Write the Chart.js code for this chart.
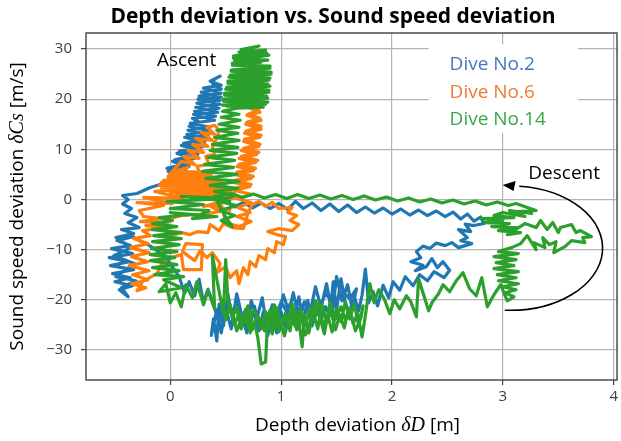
<!DOCTYPE html>
<html>
<head>
<meta charset="utf-8">
<script src="https://cdn.jsdelivr.net/npm/chart.js@4.4.1/dist/chart.umd.min.js"></script>
<style>
  html, body { margin: 0; padding: 0; background: #fff; }
</style>
</head>
<body>
<canvas id="chart" width="621" height="441"></canvas>
<script>
const xTicks = [0, 1, 2, 3, 4];
const yTicks = [-30, -20, -10, 0, 10, 20, 30];
const diveNames = ['Dive No.2', 'Dive No.6', 'Dive No.14'];

// [depth deviation, sound speed deviation]
const dive2 = [
  [0.50,-0.4],[0.58,-1.5],[0.66,-0.6],[0.74,-1.7],[0.82,-0.7],[0.90,-1.8],[0.98,-0.8],[1.06,-2.0],[1.13,-0.4],[1.20,-1.8],[1.28,-0.7],[1.36,-2.2],[1.44,-0.9],[1.52,-2.4],[1.60,-1.1],[1.68,-2.6],[1.76,-1.5],[1.84,-2.7],[1.92,-1.7],[2.00,-2.9],[2.08,-1.9],[2.16,-3.1],[2.24,-2.1],[2.32,-3.2],[2.40,-2.3],[2.48,-3.4],[2.55,-2.5],[2.62,-3.9],[2.68,-2.9],[2.74,-4.3],[2.80,-3.5],[2.83,-4.8],
  [2.74,-5.2],[2.66,-4.9],[2.71,-6.4],[2.60,-6.0],[2.68,-7.6],[2.62,-8.2],[2.72,-8.8],[2.60,-9.6],[2.54,-8.6],[2.48,-9.2],[2.40,-8.7],[2.34,-9.8],[2.28,-9.3],[2.22,-10.4],[2.26,-11.6],[2.17,-12.4],[2.28,-13.1],[2.21,-14.2],[2.31,-13.4],[2.36,-11.8],[2.41,-13.6],[2.46,-12.4],[2.52,-14.1],[2.47,-15.6],[2.38,-14.4],[2.32,-16.2],[2.25,-15.0],[2.19,-17.2],[2.12,-15.4],[2.07,-18.1],[2.01,-16.4],[1.97,-19.6],[1.92,-17.1],[1.87,-21.2],[1.83,-18.4],[1.79,-20.6],[1.76,-13.9],[1.73,-19.1],[1.70,-22.2],[1.66,-19.4],[1.62,-23.6],[1.58,-20.8],[1.54,-15.8],[1.50,-22.1],[1.47,-16.4],[1.44,-23.2],[1.40,-21.4],[1.36,-24.1],[1.32,-21.8],[1.28,-25.2],[1.24,-20.1],[1.20,-24.6],[1.16,-19.4],[1.12,-23.6],[1.08,-20.8],[1.04,-25.6],[1.00,-22.4],[0.96,-26.6],[0.92,-22.9],[0.88,-27.1],[0.84,-22.4],[0.80,-26.2],[0.76,-21.3],[0.72,-25.1],[0.68,-21.9],[0.64,-24.6],[0.60,-20.4],[0.56,-23.6],[0.52,-18.9],[0.48,-25.2],[0.44,-20.9],[0.42,-28.2],[0.39,-23.8],[0.37,-27.1],
  [0.42,-22.0],[0.46,-26.6],[0.50,-21.6],[0.55,-25.8],[0.60,-18.8],[0.64,-22.6],[0.69,-26.6],[0.73,-20.2],[0.78,-23.8],[0.83,-19.6],[0.87,-25.4],[0.92,-21.0],[0.97,-24.2],[1.02,-19.0],[1.07,-22.4],[1.11,-18.6],[1.16,-24.0],[1.21,-20.4],[1.26,-22.8],[1.31,-17.4],[1.36,-21.6],[1.41,-16.8],[1.46,-22.8],[1.50,-15.4],[1.55,-20.2],[1.60,-17.0],[1.64,-21.8],[1.68,-17.8],
  [1.62,-19.8],[1.56,-18.6],[1.48,-20.8],[1.40,-18.8],[1.32,-23.0],[1.24,-22.0],[1.16,-21.8],[1.08,-23.6],[1.00,-20.4],[0.92,-25.4],[0.84,-24.8],[0.76,-23.2],[0.68,-24.0],[0.60,-22.4],[0.52,-21.4],[0.44,-24.6],[0.38,-20.2],
  [0.34,-17.9],[0.30,-20.6],[0.26,-15.9],[0.22,-19.2],[0.17,-16.4],[0.13,-18.7],[0.08,-15.4],[0.03,-13.8],[-0.04,-11.6],[-0.12,-10.2],[-0.20,-9.0],[-0.28,-8.2],
  [-0.34,-7.4],[-0.48,-8.2],[-0.36,-9.2],[-0.53,-9.8],[-0.34,-10.8],[-0.55,-11.6],[-0.37,-12.4],[-0.54,-13.2],[-0.33,-14.0],[-0.52,-14.8],[-0.36,-15.6],[-0.50,-16.4],[-0.34,-17.2],[-0.46,-18.0],[-0.38,-19.4],[-0.44,-17.6],[-0.31,-16.2],[-0.49,-15.4],[-0.32,-12.8],[-0.51,-11.2],[-0.35,-9.6],[-0.49,-7.6],[-0.33,-6.8],[-0.44,-6.0],[-0.28,-5.6],[-0.38,-4.6],[-0.30,-3.6],[-0.41,-2.8],[-0.35,-1.8],[-0.43,-0.9],[-0.38,0.0],[-0.43,0.8],
  [-0.30,1.2],[-0.18,2.4],[-0.06,3.2],[0.02,4.0],[0.15,5.6],[-0.03,6.2],[0.20,7.4],[0.04,7.9],[0.25,9.0],[0.08,9.6],[0.30,10.6],[0.12,11.2],[0.33,12.1],[0.15,13.0],[0.36,13.6],[0.17,14.6],[0.25,15.6],[0.20,16.2],[0.41,16.6],[0.22,17.6],[0.44,18.2],[0.24,19.2],[0.45,19.8],[0.26,20.6],[0.46,21.2],[0.30,22.2],[0.46,22.8],[0.36,23.6],[0.45,24.6],[0.40,24.0],
  [0.38,23.2],[0.46,22.0],[0.28,21.4],[0.46,20.4],[0.25,20.0],[0.45,19.0],[0.23,18.4],[0.43,17.4],[0.21,17.0],[0.40,15.8],[0.18,15.2],[0.36,14.4],[0.16,13.8],[0.34,12.8],[0.13,12.4],[0.31,11.4],[0.10,10.8],[0.28,9.8],[0.06,9.2],[0.22,8.2],[0.02,7.6],[0.17,6.6],[-0.02,5.6],[0.10,5.0]
];

const dive6 = [
  [0.58,2.2],[0.73,3.0],[0.58,3.8],[0.75,4.6],[0.60,5.4],[0.77,6.2],[0.62,7.0],[0.79,7.8],[0.64,8.6],[0.80,9.4],[0.66,10.2],[0.81,11.0],[0.67,12.0],[0.82,12.8],[0.68,13.6],[0.82,14.6],[0.69,15.4],[0.81,16.2],[0.70,17.0],[0.80,17.8],[0.72,19.0],
  [0.75,19.6],[0.80,18.8],[0.70,18.4],[0.81,17.4],[0.69,16.8],[0.82,15.8],[0.68,15.0],[0.82,14.0],[0.67,13.2],[0.81,12.4],[0.66,11.6],[0.80,10.6],[0.64,9.8],[0.78,9.0],[0.62,8.2],[0.77,7.4],[0.60,6.6],[0.75,5.8],[0.58,5.0],[0.73,4.2],[0.57,3.4],[0.72,2.6],[0.58,1.8],[0.74,1.0],[0.60,0.2],[0.73,-0.6],[0.61,-1.6],[0.72,-2.6],[0.60,-3.4],[0.73,-4.4],[0.62,-5.4],
  [0.50,-4.6],[0.46,-0.8],[0.30,-1.4],[0.62,0.6],[0.05,0.8],[0.58,1.2],[0.00,1.4],[0.55,1.6],[-0.05,1.8],[0.52,2.2],[-0.08,2.4],[0.50,2.6],[-0.10,2.8],[0.48,3.2],[-0.08,3.4],[0.45,3.6],[-0.06,3.8],[0.42,4.0],[-0.02,4.2],[0.40,4.4],[0.00,4.8],[0.37,5.0],[0.02,5.2],[0.35,5.4],[0.04,5.6],
  [0.16,6.4],[-0.02,4.6],[0.10,7.6],[0.22,7.0],[0.12,8.6],[0.26,8.2],[0.16,9.8],[0.30,9.4],[0.20,11.0],[0.34,10.6],[0.23,12.2],[0.38,11.8],[0.28,13.4],[0.40,13.0],[0.33,14.4],[0.40,14.8],[0.44,13.8],[0.42,12.2],[0.38,10.4],[0.40,9.0],[0.32,8.6],[0.35,7.0],[0.24,6.6],[0.28,4.8],[0.14,4.0],
  [0.20,2.2],[-0.14,1.6],[0.12,0.2],[-0.24,0.4],[0.02,-0.8],[-0.30,-0.6],[-0.06,-1.2],[-0.28,-2.2],[-0.24,-3.4],[-0.08,-3.8],[-0.27,-4.4],[-0.02,-4.6],[-0.22,-5.2],[-0.04,-5.6],
  [-0.25,-6.2],[-0.18,-7.2],[-0.33,-7.8],[-0.20,-8.8],[-0.36,-9.6],[-0.19,-10.6],[-0.35,-11.4],[-0.20,-12.4],[-0.37,-13.2],[-0.19,-14.2],[-0.34,-15.0],[-0.20,-16.0],[-0.35,-16.8],[-0.22,-17.6],[-0.30,-18.2],[-0.25,-16.4],[-0.12,-14.8],[-0.06,-12.0],
  [0.10,-11.0],[0.12,-14.0],[0.28,-14.0],[0.29,-9.0],[0.14,-8.8],[0.11,-10.4],[0.22,-12.2],[0.27,-10.2],[0.33,-11.6],[0.38,-10.6],[0.45,-12.8],[0.42,-14.6],[0.50,-13.4],[0.54,-15.6],[0.60,-14.2],[0.62,-16.8],[0.66,-13.6],[0.70,-15.0],[0.72,-12.4],[0.77,-13.4],[0.80,-11.2],[0.86,-12.0],[0.88,-9.8],[0.94,-10.6],[0.96,-8.4],[1.02,-9.0],[1.04,-7.4],
  [0.96,-7.0],[0.88,-6.4],[0.98,-5.8],[1.10,-6.2],[1.16,-5.0],[1.08,-4.2],[1.14,-3.2],[1.06,-2.6],[1.10,-1.6],[0.98,-1.8],[0.92,-0.6],[0.86,-1.4],[0.80,-0.4],[0.74,-1.0],
  [0.70,-2.8],[0.66,-5.8],[0.56,-5.6],[0.48,-4.8],[0.44,-6.2],[0.36,-5.0],[0.34,-6.6],[0.25,-6.4],[0.18,-7.0],[0.10,-6.6],[0.02,-7.2],[-0.04,-6.4],[-0.02,-4.0],[0.10,-3.2],[0.28,-3.0],[0.45,-2.4],[0.35,-1.2],[0.55,-2.2]
];

const dive14 = [
  [0.50,18.6],[0.86,19.0],[0.48,19.6],[0.88,20.2],[0.49,20.8],[0.89,21.4],[0.50,22.0],[0.90,22.6],[0.52,23.2],[0.89,23.8],[0.53,24.4],[0.91,25.0],[0.55,25.6],[0.90,26.2],[0.56,27.2],[0.88,27.8],[0.57,28.2],[0.87,29.2],[0.64,29.9],[0.80,30.6],
  [0.77,30.4],[0.62,29.4],[0.86,29.8],[0.57,28.6],[0.89,28.8],[0.58,27.8],[0.82,27.4],[0.56,26.8],[0.90,26.6],[0.55,25.8],[0.91,25.4],[0.54,24.8],[0.90,24.2],[0.52,23.6],[0.88,23.0],[0.51,22.4],[0.89,21.8],[0.49,21.2],[0.87,20.6],[0.48,20.0],[0.88,19.4],[0.47,18.8],[0.84,18.4],[0.60,18.2],
  [0.47,17.6],[0.62,17.0],[0.46,16.4],[0.63,15.8],[0.44,15.0],[0.62,14.4],[0.42,13.8],[0.61,13.2],[0.40,12.4],[0.62,11.8],[0.38,11.0],[0.61,10.4],[0.36,9.8],[0.60,9.2],[0.34,8.4],[0.58,7.8],[0.31,7.0],[0.57,6.4],[0.29,5.6],[0.60,5.0],[0.32,4.2],[0.62,3.6],[0.36,2.8],[0.61,2.2],[0.40,1.6],[0.58,0.8],[0.44,-0.4],[0.60,-1.2],[0.45,-2.2],[0.58,-3.2],[0.46,-4.2],[0.56,-5.4],[0.50,-3.6],[0.40,0.6],
  [0.55,1.2],[0.65,0.4],[0.75,1.1],[0.85,0.3],[0.95,1.0],[1.05,0.2],[1.15,1.0],[1.25,0.2],[1.35,0.9],[1.45,0.1],[1.55,0.8],[1.65,0.0],[1.75,0.7],[1.85,-0.1],[1.95,0.5],[2.05,-0.3],[2.15,0.3],[2.25,-0.5],[2.35,0.1],[2.45,-0.7],[2.55,-0.1],[2.65,-0.9],[2.75,-0.3],[2.85,-1.1],[2.95,-0.5],[3.05,-1.2],
  [3.12,-0.8],[3.22,-1.6],[3.30,-2.2],[3.14,-2.4],[3.26,-2.8],[3.06,-2.2],[3.20,-3.4],[3.00,-2.6],[2.92,-3.2],[3.10,-3.6],[2.80,-3.8],[3.00,-4.2],[2.84,-4.6],[3.06,-4.8],[2.90,-5.4],[3.12,-5.6],[2.96,-6.2],[3.16,-6.6],[3.04,-7.0],[3.20,-4.8],[3.30,-5.6],[3.34,-4.2],[3.40,-6.0],[3.45,-4.6],[3.50,-6.6],[3.52,-5.6],[3.62,-5.0],[3.66,-6.6],[3.70,-6.2],[3.80,-7.4],[3.72,-7.6],[3.74,-8.6],[3.62,-8.2],[3.56,-9.4],[3.46,-10.6],[3.48,-8.4],[3.42,-9.0],[3.36,-7.6],[3.38,-9.6],[3.28,-8.6],[3.30,-10.0],[3.22,-7.2],[3.16,-8.8],
  [3.08,-9.6],[2.96,-10.4],[3.14,-10.8],[2.92,-11.4],[3.12,-12.0],[2.94,-12.6],[3.10,-13.2],[2.92,-13.8],[3.14,-14.4],[2.95,-15.0],[3.12,-15.6],[2.96,-16.2],[3.14,-16.8],[3.00,-17.4],[3.12,-18.0],[3.02,-18.6],[3.10,-19.4],[3.04,-20.2],[2.98,-17.0],[2.92,-19.0],
  [2.86,-21.4],[2.81,-15.6],[2.76,-19.2],[2.70,-17.8],[2.64,-14.6],[2.58,-16.2],[2.52,-18.4],[2.46,-17.0],[2.42,-18.8],[2.36,-20.6],[2.33,-22.2],[2.28,-18.6],[2.24,-15.8],[2.22,-23.4],[2.17,-20.4],[2.13,-19.2],[2.07,-21.8],[2.02,-20.0],[1.98,-22.8],[1.93,-19.8],[1.88,-18.0],[1.84,-20.6],[1.80,-16.8],[1.76,-23.2],[1.73,-27.4],[1.69,-22.6],[1.65,-24.8],[1.61,-21.6],[1.57,-25.6],[1.53,-23.0],[1.49,-26.0],[1.45,-22.2],[1.41,-24.4],[1.37,-21.0],[1.33,-25.8],[1.29,-22.4],[1.25,-26.6],[1.21,-23.0],[1.19,-29.4],[1.16,-24.2],[1.12,-21.8],[1.08,-26.2],[1.04,-22.6],[1.00,-25.4],[0.96,-21.6],[0.92,-26.8],[0.88,-23.4],[0.86,-32.4],[0.82,-32.8],[0.79,-27.6],[0.76,-24.4],[0.72,-26.6],[0.68,-22.0],[0.64,-25.8],[0.60,-21.4],[0.56,-23.6],[0.52,-20.2],[0.50,-12.0],[0.48,-22.6],[0.45,-19.4],
  [0.50,-24.0],[0.54,-21.0],[0.58,-25.0],[0.62,-22.6],[0.66,-24.2],[0.70,-21.2],[0.74,-26.0],[0.78,-23.0],[0.82,-25.8],[0.86,-22.4],[0.90,-24.8],[0.94,-21.0],[0.98,-26.4],[1.02,-23.4],[1.06,-25.0],[1.10,-20.8],[1.14,-26.0],[1.18,-22.0],[1.22,-25.2],[1.26,-21.6],[1.30,-24.0],[1.34,-20.6],[1.38,-25.4],[1.42,-23.0],[1.46,-26.4],[1.50,-21.8],[1.54,-24.4],[1.58,-20.4],[1.62,-23.8],[1.66,-20.8],[1.70,-25.2],[1.74,-21.2],
  [1.72,-23.6],[1.67,-26.2],[1.63,-22.8],[1.58,-24.0],[1.54,-21.4],[1.49,-23.8],[1.44,-20.6],[1.39,-26.8],[1.35,-23.6],[1.31,-20.2],[1.26,-24.6],[1.22,-27.0],[1.17,-22.6],[1.13,-25.4],[1.08,-23.0],[1.03,-27.2],[0.99,-24.0],[0.94,-25.6],[0.90,-22.0],[0.85,-26.2],[0.80,-23.6],[0.75,-22.0],[0.70,-25.4],[0.65,-23.2],[0.60,-26.2],[0.55,-21.8],[0.50,-23.0],[0.46,-20.6],[0.38,-11.2],
  [0.40,-21.8],[0.34,-18.2],[0.30,-21.0],[0.24,-16.4],[0.20,-19.6],[0.14,-17.0],[0.10,-21.4],[0.05,-18.6],[0.00,-20.6],[-0.04,-16.8],[-0.10,-18.4],[0.10,-17.6],[-0.06,-16.0],[0.12,-15.4],[-0.14,-15.0],[0.08,-14.2],[-0.16,-13.6],[0.06,-13.0],[-0.18,-12.2],[0.04,-11.6],[-0.18,-11.0],[0.06,-10.4],[-0.17,-9.8],[0.08,-9.0],[-0.16,-8.4],[0.10,-7.8],[-0.15,-7.2],[0.10,-6.6],[-0.16,-6.0],[0.06,-5.4],[-0.16,-4.8],[0.02,-4.2],[-0.10,-3.6],[0.18,-3.0],[0.00,-2.6],[0.42,-3.4],[0.20,-3.8],
  [0.35,-2.2],[0.00,-1.8],[0.30,-1.0],[-0.03,-0.4],[0.52,0.2],[0.10,0.6],[0.55,-0.4]
];

const dives = [dive2, dive6, dive14];
const lineColors = ['#1f77b4', '#ff7f0e', '#2ca02c'];
const textColors = ['#4676c0', '#f07a36', '#36a84a'];

const xTitle = [['Depth deviation ', false], ['δD', true], [' [m]', false]];
const yTitle = [['Sound speed deviation ', false], ['δCs', true], [' [m/s]', false]];

Chart.defaults.font.family = '"Open Sans", sans-serif';

const minusSign = v => String(v).replace('-', '\u2212');

// axis title with the symbols in italic, centred at 0,0 of the current transform
function drawMixed(ctx, parts) {
  const fontFor = it => it ? 'italic 20px "Liberation Serif"' : '19px "Open Sans"';
  let total = 0;
  parts.forEach(([t, it]) => { ctx.font = fontFor(it); total += ctx.measureText(t).width; });
  let pos = -total / 2;
  ctx.textAlign = 'left';
  parts.forEach(([t, it]) => {
    ctx.font = fontFor(it);
    ctx.fillText(t, pos, 0);
    pos += ctx.measureText(t).width;
  });
}

// frame, titles, legend box and the ascent / descent notes
const notes = {
  id: 'notes',
  afterDraw(chart) {
    const { ctx, chartArea: a, scales: { x, y } } = chart;
    ctx.save();
    ctx.strokeStyle = '#404040';
    ctx.lineWidth = 1.4;
    ctx.strokeRect(a.left, a.top, a.right - a.left, a.bottom - a.top);

    ctx.fillStyle = '#000';
    ctx.textBaseline = 'middle';
    ctx.textAlign = 'center';
    ctx.font = 'bold 21px "Open Sans"';
    ctx.fillText('Depth deviation vs. Sound speed deviation', 333, 17);

    ctx.save();
    ctx.translate((a.left + a.right) / 2 + 6, 426);
    drawMixed(ctx, xTitle);
    ctx.restore();
    ctx.save();
    ctx.translate(18, (a.top + a.bottom) / 2);
    ctx.rotate(-Math.PI / 2);
    drawMixed(ctx, yTitle);
    ctx.restore();

    const bx0 = x.getPixelForValue(2.33), bx1 = x.getPixelForValue(3.68);
    const by0 = y.getPixelForValue(30.9), by1 = y.getPixelForValue(13.3);
    ctx.fillStyle = '#fff';
    ctx.fillRect(bx0, by0, bx1 - bx0, by1 - by0);

    ctx.font = '19px "Open Sans"';
    ctx.textAlign = 'left';
    const legendY = [26.8, 21.3, 15.9];
    diveNames.forEach((name, i) => {
      ctx.fillStyle = textColors[i];
      ctx.fillText(name, x.getPixelForValue(2.52), y.getPixelForValue(legendY[i]));
    });

    ctx.fillStyle = '#000';
    ctx.textAlign = 'center';
    ctx.fillText('Ascent', x.getPixelForValue(0.147), y.getPixelForValue(27.7));
    ctx.fillText('Descent', x.getPixelForValue(3.553), y.getPixelForValue(5.2));

    // curved arrow for the descent
    const cx = x.getPixelForValue(3.07), cy = y.getPixelForValue(-9.7);
    const rx = x.getPixelForValue(3.90) - cx, ry = y.getPixelForValue(-22.1) - cy;
    ctx.strokeStyle = '#000';
    ctx.lineWidth = 1.6;
    ctx.beginPath();
    ctx.ellipse(cx, cy, rx, ry, 0, Math.PI * 0.52, -Math.PI * 0.47, true);
    ctx.stroke();
    const tipX = cx - 8, tipY = cy - ry - 1;
    ctx.beginPath();
    ctx.moveTo(tipX, tipY);
    ctx.lineTo(tipX + 13, tipY - 4);
    ctx.lineTo(tipX + 11, tipY + 6);
    ctx.closePath();
    ctx.fill();
    ctx.restore();
  }
};

new Chart(document.getElementById('chart'), {
  type: 'scatter',
  data: {
    datasets: dives.map((d, i) => ({
      label: diveNames[i],
      data: d.map(([px, py]) => ({ x: px, y: py })),
      showLine: true,
      borderColor: lineColors[i],
      backgroundColor: lineColors[i],
      borderWidth: 3.2,
      borderJoinStyle: 'round',
      pointRadius: 0,
      tension: 0,
      order: 3 - i
    }))
  },
  options: {
    responsive: false,
    animation: false,
    layout: { padding: { top: 33, right: 3, left: 0, bottom: 0 } },
    plugins: { legend: { display: false }, tooltip: { enabled: false }, title: { display: false } },
    scales: {
      x: {
        type: 'linear',
        min: -0.76,
        max: 4.03,
        afterBuildTicks: s => { s.ticks = xTicks.map(v => ({ value: v })); },
        afterFit: s => { s.height = 61; },
        grid: { color: '#b4b4b4', lineWidth: 1.2, tickLength: 5, tickColor: '#404040', tickWidth: 1.2 },
        border: { display: false },
        ticks: { color: '#404040', font: { size: 15 }, padding: 3, callback: minusSign }
      },
      y: {
        min: -36,
        max: 33.2,
        afterBuildTicks: s => { s.ticks = yTicks.map(v => ({ value: v })); },
        afterFit: s => { s.width = 86; },
        grid: { color: '#b4b4b4', lineWidth: 1.2, tickLength: 5, tickColor: '#404040', tickWidth: 1.2 },
        border: { display: false },
        ticks: { color: '#404040', font: { size: 15 }, padding: 9, callback: minusSign }
      }
    }
  },
  plugins: [notes]
});
</script>
</body>
</html>
